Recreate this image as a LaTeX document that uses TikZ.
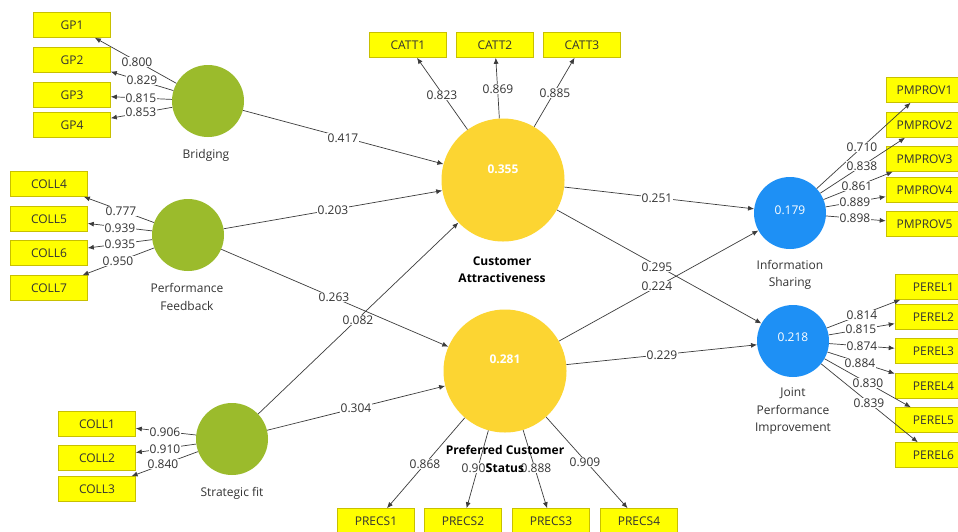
\documentclass[tikz,border=0pt]{standalone}
\usepackage{fontspec}
\setmainfont{Open Sans}
\usetikzlibrary{arrows.meta}
\definecolor{boxy}{HTML}{FFFF00}
\definecolor{boxb}{HTML}{C8C000}
\definecolor{grn}{HTML}{9BBB2C}
\definecolor{ylw}{HTML}{FCD532}
\definecolor{blu}{HTML}{1E90F5}
\definecolor{lnc}{HTML}{3C3C3C}
\definecolor{txt}{HTML}{333333}
\begin{document}
\begin{tikzpicture}[x=1pt,y=-1pt,
  ind/.style={rectangle, fill=boxy, draw=boxb, line width=0.6pt, minimum width=77pt, minimum height=25pt, inner sep=0pt, font=\fontsize{12}{14}\selectfont, text=txt},
  small/.style={circle, minimum size=72pt, inner sep=0pt},
  big/.style={circle, minimum size=123pt, inner sep=0pt, fill=ylw},
  con/.style={draw=lnc, line width=0.7pt, -{Latex[length=6pt,width=5pt]}},
  val/.style={fill=white, inner sep=0.8pt, font=\fontsize{12}{14}\selectfont, text=txt},
  cname/.style={align=center, font=\fontsize{12}{17.5}\selectfont, text=txt},
  bname/.style={align=center, font=\bfseries\fontsize{12}{17.5}\selectfont, text=black},
  rsq/.style={text=white, font=\fontsize{12}{14}\selectfont},
  rsqb/.style={text=white, font=\bfseries\fontsize{12}{14}\selectfont}
]
\path[use as bounding box] (0,0) rectangle (958,531);
\clip (0,0) rectangle (958,531);
\fill[white] (0,0) rectangle (958,531);

% latent variables
\node[small, fill=grn] (br) at (208,101) {};
\node[small, fill=grn] (pf) at (188,235) {};
\node[small, fill=grn] (sf) at (232,439) {};
\node[big] (ca) at (503,180) {};
\node[big] (pcs) at (505,371) {};
\node[small, fill=blu] (is) at (790,213) {};
\node[small, fill=blu] (jpi) at (793,341) {};

% indicators
\node[ind] (gp1) at (72,25) {GP1};
\node[ind] (gp2) at (72,60) {GP2};
\node[ind] (gp3) at (72,95) {GP3};
\node[ind] (gp4) at (72,125) {GP4};
\node[ind] (c4) at (49,184) {COLL4};
\node[ind] (c5) at (49,219) {COLL5};
\node[ind] (c6) at (49,253) {COLL6};
\node[ind] (c7) at (49,288) {COLL7};
\node[ind] (c1) at (97,424) {COLL1};
\node[ind] (c2) at (97,458) {COLL2};
\node[ind] (c3) at (97,489) {COLL3};
\node[ind] (ct1) at (408,45) {CATT1};
\node[ind] (ct2) at (495,45) {CATT2};
\node[ind] (ct3) at (582,45) {CATT3};
\node[ind] (p1) at (376,521) {PRECS1};
\node[ind] (p2) at (463,521) {PRECS2};
\node[ind] (p3) at (551,521) {PRECS3};
\node[ind] (p4) at (639,521) {PRECS4};
\node[ind] (m1) at (924.5,90) {PMPROV1};
\node[ind] (m2) at (924.5,125) {PMPROV2};
\node[ind] (m3) at (924.5,159) {PMPROV3};
\node[ind] (m4) at (924.5,190) {PMPROV4};
\node[ind] (m5) at (924.5,224) {PMPROV5};
\node[ind] (e1) at (933.5,287) {PEREL1};
\node[ind] (e2) at (933.5,317) {PEREL2};
\node[ind] (e3) at (933.5,351) {PEREL3};
\node[ind] (e4) at (933.5,386) {PEREL4};
\node[ind] (e5) at (933.5,420) {PEREL5};
\node[ind] (e6) at (933.5,455) {PEREL6};

% outer model connectors
\foreach \t in {gp1,gp2,gp3,gp4} \draw[con] (br) -- (\t);
\foreach \t in {c4,c5,c6,c7} \draw[con] (pf) -- (\t);
\foreach \t in {c1,c2,c3} \draw[con] (sf) -- (\t);
\foreach \t in {ct1,ct2,ct3} \draw[con] (ca) -- (\t);
\foreach \t in {p1,p2,p3,p4} \draw[con] (pcs) -- (\t);
\foreach \t in {m1,m2,m3,m4,m5} \draw[con] (is) -- (\t);
\foreach \t in {e1,e2,e3,e4,e5,e6} \draw[con] (jpi) -- (\t);

% inner model connectors
\draw[con] (br) -- (ca);
\draw[con] (pf) -- (ca);
\draw[con] (pf) -- (pcs);
\draw[con] (sf) -- (ca);
\draw[con] (sf) -- (pcs);
\draw[con] (ca) -- (is);
\draw[con] (ca) -- (jpi);
\draw[con] (pcs) -- (is);
\draw[con] (pcs) -- (jpi);

% loadings
\node[val] (l1) at (137,62) {0.800};
\node[val] (l2) at (142,80) {0.829};
\node[val] (l3) at (141,98) {0.815};
\node[val] (l4) at (141,112) {0.853};
\node[val] (l5) at (121,211) {0.777};
\node[val] (l6) at (120,228) {0.939};
\node[val] (l7) at (120,244) {0.935};
\node[val] (l8) at (118,261) {0.950};
\node[val] (l9) at (165,432) {0.906};
\node[val] (l10) at (165,449) {0.910};
\node[val] (l11) at (163,464) {0.840};
\node[val] (l12) at (442,95) {0.823};
\node[val] (l13) at (498,89) {0.869};
\node[val] (l14) at (555,93) {0.885};
\node[val] (l15) at (425,464) {0.868};
\node[val] (l16) at (477,468) {0.905};
\node[val] (l17) at (536,468) {0.888};
\node[val] (l18) at (585,462) {0.909};
\node[val] (l19) at (862,147) {0.710};
\node[val] (l20) at (862,166) {0.838};
\node[val] (l21) at (857,186) {0.861};
\node[val] (l22) at (855,202) {0.889};
\node[val] (l23) at (855,218) {0.898};
\node[val] (l24) at (862,315) {0.814};
\node[val] (l25) at (861,329) {0.815};
\node[val] (l26) at (862,346) {0.874};
\node[val] (l27) at (860,363) {0.884};
\node[val] (l28) at (868,383) {0.830};
\node[val] (l29) at (869,403) {0.839};

% path coefficients
\node[val] (b1) at (343,138) {0.417};
\node[val] (b2) at (333,210) {0.203};
\node[val] (b3) at (334,297) {0.263};
\node[val] (b4) at (358,320) {0.082};
\node[val] (b5) at (356,408) {0.304};
\node[val] (b6) at (657,198) {0.251};
\node[val] (b7) at (657,267) {0.295};
\node[val] (b8) at (657,286) {0.224};
\node[val] (b9) at (662,355) {0.229};

% R squared
\node[rsqb] (r1) at (503,169) {0.355};
\node[rsqb] (r2) at (505,359) {0.281};
\node[rsq] (r3) at (790,210) {0.179};
\node[rsq] (r4) at (793,337) {0.218};

% construct names
\node[cname] (n1) at (206,155) {Bridging};
\node[cname] (n2) at (187,297) {Performance\\Feedback};
\node[cname] (n3) at (232,493) {Strategic fit};
\node[bname] (n4) at (502,269.5) {Customer\\Attractiveness};
\node[bname] (n5) at (505,459) {Preferred Customer\\Status};
\node[cname] (n6) at (790,275) {Information\\Sharing};
\node[cname] (n7) at (793,411.5) {Joint\\Performance\\Improvement};
\end{tikzpicture}
\end{document}
